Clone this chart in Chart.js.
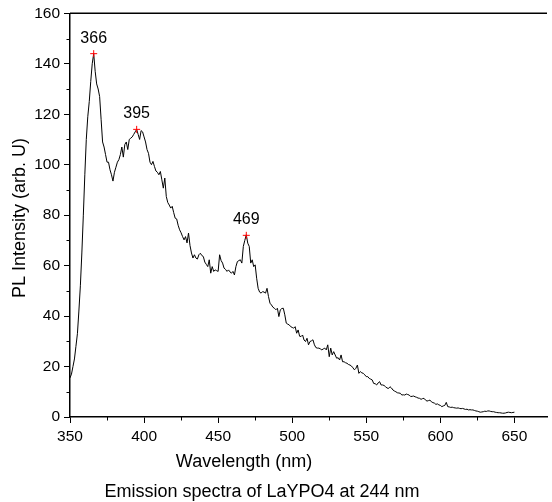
<!DOCTYPE html>
<html><head><meta charset="utf-8">
<script src="https://cdn.jsdelivr.net/npm/chart.js@4/dist/chart.umd.min.js"></script>
<style>html,body{margin:0;padding:0;background:#fff}#wrap{width:552px;height:502px}</style>
</head><body><div id="wrap"><canvas id="c" width="552" height="502"></canvas></div>
<script>
// ---- data ----
const wavelengthStart = 350;   // nm, first sample
const wavelengthEnd = 650;     // nm, last sample (1 nm step)
const intensity = [
 15.5,17,20,23,28,33,42,52,65,80,
 96,110,119,125,133,140,144,137,132,130,
 127,118,109,107,104,101,101,98,96,93.5,
 97,99,101,102,104,107,103,108,109,106,
 110,110.5,111,112,113,114,112,110,113.5,113,
 111,109,106,104.5,101,100,101.3,99.3,97.5,97,
 96,97.3,94,90.7,94.7,87.4,85,84,82.8,83.5,
 81,78.8,78.5,76,74.2,73,71.5,70.2,71.5,69,
 72.9,68,65,63,64.3,63,62.6,64.3,64.9,64,
 63.6,61.4,60.5,59.6,62.3,57,59.6,57.7,58.3,58,
 57.7,64.3,62,61,59,58.5,57.7,58.3,57.5,57,
 57.7,56.3,59.6,61.6,62,62.3,61,67.6,70,72.2,
 68.9,67.6,61,62.3,59.6,60.3,55,51,49.5,49.1,
 49.7,49.5,49.1,51,47.7,45.1,44.4,43.5,43.1,42.5,
 43.1,39.8,42.5,43,43.1,40.5,37.2,36.8,36.5,35.8,
 35.5,35.2,35.8,33.2,34.5,32,31.9,32.5,30.5,29.9,
 31.2,28.6,29.9,30.2,30.6,28.6,27.5,27.3,27.3,27,
 26.6,27,27.3,26.6,28.6,23.9,27.3,24.6,25.9,24.6,
 23.3,23.5,22.6,24.6,21.9,21.9,21.5,21.3,20.8,20.6,
 20.2,19.5,18.7,19.3,20.6,17.3,18,17.5,17.3,16.7,
 16,16,15.3,15,14.7,13.3,13.2,12.7,13.5,14,
 12.7,12.7,12.5,12,11.5,11.3,12,11.5,10.7,10.3,
 10,9.6,9.5,9.4,8.7,8.8,8.7,9.1,8.9,8.7,
 8.1,8.2,8.3,8,7.8,7.5,7.4,7,7.3,7.4,
 6.7,6.3,6.5,6.7,6,5.7,5.5,5,5.2,4.8,
 4.6,4.1,4.4,4.6,5.8,4.1,4,3.8,3.9,3.7,
 3.6,3.5,3.6,3.4,3.3,3.4,3.2,3,3.1,2.8,
 2.9,2.8,2.8,2.6,2.4,2.3,2.1,1.9,2,2.1,
 2.3,2.2,2.4,2.4,2.2,2.1,2.1,1.9,1.8,1.7,
 1.7,1.6,1.5,1.5,1.6,1.8,1.9,1.8,1.7,1.8,
 1.9
];
const peakWavelengths = [366, 395, 469];
const peakIntensities = [144, 114, 72];
const peakLabels = ['366', '395', '469'];
const xMinorTicks = [375, 425, 475, 525, 575, 625];
const yMinorTicks = [10, 30, 50, 70, 90, 110, 130, 150];
const xTitle = 'Wavelength (nm)';
const yTitle = 'PL Intensity (arb. U)';
const caption = 'Emission spectra of LaYPO4 at 244 nm';

// sampling grid (x positions of the samples)
const wavelengths = [];
for (let w = wavelengthStart; w <= wavelengthEnd; w++) wavelengths.push(w);
const spectrum = wavelengths.map((w, i) => ({x: w, y: intensity[i]}));
const peaks = peakWavelengths.map((w, i) => ({x: w, y: peakIntensities[i]}));

const FONT = "'Liberation Sans', Arial, sans-serif";

const decor = {
  id: 'decor',
  afterDraw(chart) {
    const ctx = chart.ctx, xs = chart.scales.x, ys = chart.scales.y, a = chart.chartArea;
    ctx.save();
    ctx.strokeStyle = '#000';
    // top frame line
    ctx.lineWidth = 1.5;
    ctx.beginPath(); ctx.moveTo(a.left, a.top); ctx.lineTo(a.right, a.top); ctx.stroke();
    // minor ticks
    ctx.lineWidth = 1;
    ctx.beginPath();
    xMinorTicks.forEach(v => { const px = Math.round(xs.getPixelForValue(v)) + 0.5; ctx.moveTo(px, a.bottom); ctx.lineTo(px, a.bottom + 3.5); });
    yMinorTicks.forEach(v => { const py = Math.round(ys.getPixelForValue(v)) + 0.5; ctx.moveTo(a.left, py); ctx.lineTo(a.left - 3.5, py); });
    ctx.stroke();
    // peak labels
    ctx.fillStyle = '#000';
    ctx.font = '16px ' + FONT;
    ctx.textAlign = 'center'; ctx.textBaseline = 'alphabetic';
    peakLabels.forEach((t, i) => {
      ctx.fillText(t, xs.getPixelForValue(peakWavelengths[i]), ys.getPixelForValue(peakIntensities[i]) - 11);
    });
    // axis titles and caption
    ctx.font = '18px ' + FONT;
    ctx.fillText(xTitle, 244, 467);
    ctx.fillText(caption, 262, 497);
    ctx.translate(25, 218);
    ctx.rotate(-Math.PI / 2);
    ctx.fillText(yTitle, 0, 0);
    ctx.restore();
  }
};

new Chart(document.getElementById('c'), {
  type: 'scatter',
  data: {
    datasets: [
      { data: spectrum, showLine: true, borderColor: '#000', borderWidth: 1, pointRadius: 0, tension: 0, order: 2 },
      { data: peaks, showLine: false, pointStyle: 'cross', pointRadius: 3.5, borderColor: '#ff0000', backgroundColor: '#ff0000', borderWidth: 1, order: 1 }
    ]
  },
  options: {
    responsive: false,
    animation: false,
    devicePixelRatio: 1,
    layout: { padding: { top: 13, right: 2, left: 0, bottom: 0 } },
    plugins: { legend: { display: false }, tooltip: { enabled: false } },
    scales: {
      x: {
        type: 'linear', min: 350, max: 672,
        ticks: { stepSize: 50, includeBounds: false, color: '#000', font: { family: FONT, size: 15.5 }, padding: 4, maxRotation: 0, autoSkip: false },
        grid: { drawOnChartArea: false, drawTicks: true, tickLength: 6, color: '#000', lineWidth: 1 },
        border: { display: true, color: '#000', width: 1.5 },
        afterFit: s => { s.height = 85; }
      },
      y: {
        type: 'linear', min: 0, max: 160,
        ticks: { stepSize: 20, color: '#000', font: { family: FONT, size: 15.5 }, padding: 4 },
        grid: { drawOnChartArea: false, drawTicks: true, tickLength: 6, color: '#000', lineWidth: 1 },
        border: { display: true, color: '#000', width: 1.5 },
        afterFit: s => { s.width = 70; }
      }
    }
  },
  plugins: [decor]
});
</script>
</body></html>
